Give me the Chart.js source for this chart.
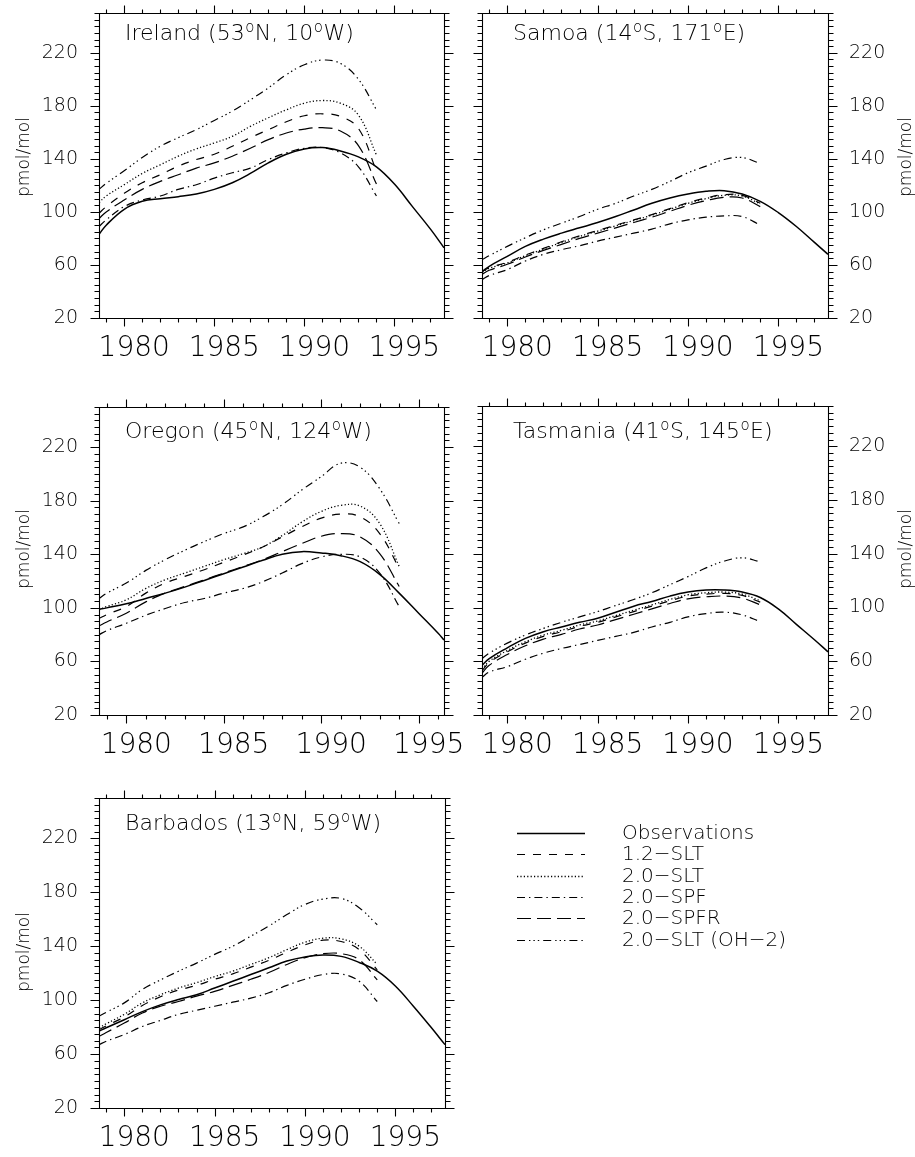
<!DOCTYPE html>
<html>
<head>
<meta charset="utf-8">
<script src="https://cdn.jsdelivr.net/npm/chart.js@4.4.1/dist/chart.umd.min.js"></script>
<style>
  html, body { margin: 0; padding: 0; background: #fff; }
  #wrap { position: relative; width: 915px; height: 1157px; overflow: hidden; background: #fff; }
  #wrap canvas { position: absolute; }
</style>
</head>
<body>
<div id="wrap"></div>
<script>
// ---- tick labels and series names ----
const X_MAJOR = [1980, 1985, 1990, 1995];
const Y_MAJOR = [20, 60, 100, 140, 180, 220];
const SERIES = ['Observations', '1.2\u2212SLT', '2.0\u2212SLT', '2.0\u2212SPF', '2.0\u2212SPFR', '2.0\u2212SLT (OH\u22122)'];

// ---- sample years ----
const YEARS_MODEL = [1978.6, 1979, 1980, 1981, 1982, 1983, 1984, 1985, 1986, 1987, 1988, 1989, 1990, 1991, 1992, 1993, 1994];
const YEARS_OBS = [1978.6, 1979, 1980, 1981, 1982, 1983, 1984, 1985, 1986, 1987, 1988, 1989, 1990, 1991, 1992, 1993, 1994, 1995, 1996, 1997, 1997.75];
const YEARS_OBS_OREGON = [1978.6, 1979, 1980, 1981, 1982, 1983, 1984, 1985, 1986, 1987, 1988, 1989, 1990, 1991, 1992, 1993, 1994, 1995, 1996, 1996.3];

// ---- Ireland (pmol/mol) ----
const IRELAND_OBS   = [83, 90, 102, 108, 110, 111.5, 113.5, 117, 122, 129, 137, 143.5, 147.5, 148.5, 146, 141.5, 134, 121, 104, 87, 73];
const IRELAND_SLT12 = [99, 104, 114, 122, 128, 134.5, 139.5, 143.5, 149.5, 156, 162, 168, 172.5, 174, 172, 163, 131];
const IRELAND_SLT20 = [107, 112, 120.5, 129, 135.5, 142, 147.5, 152, 157, 164.5, 171, 177, 182, 184, 182, 173, 143];
const IRELAND_SPF   = [89, 94, 104, 109, 112, 117, 120.5, 125.5, 129.5, 133, 139.5, 144.5, 148, 148.5, 144.5, 134, 112];
const IRELAND_SPFR  = [95, 100, 109, 117, 123, 128, 133, 137, 142, 148, 154.5, 159.5, 162.5, 163.5, 161, 150, 121];
const IRELAND_OH2   = [117, 121.5, 131, 141, 149.5, 156, 162, 169, 176, 184.5, 193.5, 203.5, 211, 214.5, 212, 200, 177];

// ---- Samoa ----
const SAMOA_OBS   = [55, 59, 66.5, 74, 79.5, 84, 88, 92, 96.5, 101.5, 106.5, 110.5, 113.5, 115.5, 116, 113.5, 108, 99.5, 89, 77, 68];
const SAMOA_SLT12 = [55, 58, 62, 67.5, 72.5, 77.5, 82, 86, 90, 94, 98, 102.5, 107, 110.5, 113, 112.5, 106.5];
const SAMOA_SLT20 = [54.5, 57.5, 61.5, 67, 72, 77, 81.5, 85.5, 89.5, 93.5, 97.5, 102, 106.5, 110, 112.5, 112, 106];
const SAMOA_SPF   = [49, 52, 56.5, 63, 68, 71.5, 74.5, 78, 81, 84, 87, 91, 94, 96, 97, 96.5, 90];
const SAMOA_SPFR  = [53, 56, 60.5, 66, 71, 75.5, 80, 84, 88, 92, 96, 100.5, 105, 108.5, 111, 110.5, 104];
const SAMOA_OH2   = [64, 67, 74, 80.5, 86.5, 91.5, 96.5, 102, 106.5, 112, 117, 123, 129.5, 134.5, 139.5, 141, 136.5];

// ---- Oregon ----
const OREGON_OBS   = [99, 100, 103, 107, 111, 115.5, 120.5, 125.5, 130.5, 135.5, 140, 142, 141, 139, 134.5, 125, 111, 96, 81, 76];
const OREGON_SLT12 = [92, 95, 101, 111, 118.5, 123.5, 128.5, 134, 139.5, 145.5, 153, 160.5, 167, 170, 168, 155.5, 129.5];
const OREGON_SLT20 = [98.5, 101, 106, 114.5, 121, 126, 131, 136, 140.5, 145.5, 154, 164, 172, 176.5, 176, 163, 131];
const OREGON_SPF   = [80, 83, 88.5, 94.5, 99.5, 104, 107, 111, 114.5, 119.5, 126, 133, 138, 140, 138, 126, 101];
const OREGON_SPFR  = [86.5, 89.5, 96, 104.5, 111, 116, 121, 126, 131, 136, 142, 148, 153.5, 155.5, 153, 140.5, 116];
const OREGON_OH2   = [107, 111, 118.5, 128, 136, 143, 149.5, 155.5, 160.5, 168, 177, 188, 198, 208, 205, 189, 163];

// ---- Tasmania ----
const TASMANIA_OBS   = [57, 62, 70, 77, 82, 85.5, 89, 92, 96.5, 101, 104.5, 108.5, 111.5, 113, 113, 111.5, 107.5, 99, 87.5, 76, 67];
const TASMANIA_SLT12 = [53, 59, 67, 73.5, 78.5, 82, 86, 89, 93, 97, 101, 105, 108.5, 110, 110.5, 109, 104];
const TASMANIA_SLT20 = [54, 60, 68, 74.5, 79.5, 83, 87, 90, 94, 98, 102, 106, 109.5, 111, 111.5, 110, 105];
const TASMANIA_SPF   = [48, 52, 56, 61.5, 66, 69.5, 72.5, 75.5, 78.5, 81.5, 85.5, 89, 93, 95.5, 96.5, 94.5, 89.5];
const TASMANIA_SPFR  = [51, 57, 65, 71.5, 76.5, 80, 84, 87, 91, 95, 99, 103, 106.5, 108, 108.5, 107, 102];
const TASMANIA_OH2   = [62, 66, 73.5, 79.5, 84.5, 89, 93, 97, 101.5, 106, 111, 117, 123, 129.5, 134.5, 137, 134];

// ---- Barbados ----
const BARBADOS_OBS   = [77, 79.5, 85.5, 91.5, 96.5, 100.5, 104, 109, 114, 119, 124, 129, 132, 133.5, 132.5, 128, 121.5, 110.5, 95.5, 79.5, 67];
const BARBADOS_SLT12 = [78, 81, 87.5, 96, 102.5, 107.5, 111, 115.5, 119.5, 124.5, 129.5, 135.5, 141, 144.5, 143.5, 137.5, 122.5];
const BARBADOS_SLT20 = [79.5, 82.5, 89.5, 98, 104, 109, 113, 117.5, 121.5, 126.5, 131.5, 137.5, 143, 146, 145.5, 140, 126.5];
const BARBADOS_SPF   = [67, 69.5, 74.5, 80.5, 85, 89.5, 92.5, 95.5, 98.5, 101.5, 105.5, 111, 115.5, 119, 119.5, 114, 99];
const BARBADOS_SPFR  = [73, 76, 83, 90.5, 95.5, 99, 103, 106.5, 111, 115.5, 120.5, 126.5, 131.5, 134.5, 134.5, 130, 115];
const BARBADOS_OH2   = [88, 91, 98, 108, 115, 121.5, 127.5, 134, 140, 147.5, 155, 163.5, 171, 175, 175.5, 168.5, 156];

// ---- styling ----
const FONT_FAMILY = '"DejaVu Sans", "Liberation Sans", sans-serif';
const FONT_WEIGHT = 200;
const DASHES = [[], [8, 8], [1.2, 2.2], [8, 4, 1.4, 4], [14, 6], [8, 4, 1.4, 3, 1.4, 3, 1.4, 4]];
const WIDTHS = [1.5, 1.2, 1.3, 1.2, 1.2, 1.2];

// page-pixel layout of each panel: canvas rect [x, y, w, h] and plot box [left, top, right, bottom]
const PANELS = [
  { name: 'Ireland (53\u00B0N, 10\u00B0W)', canvas: [0, 0, 463, 385], box: [99, 13, 444, 318], xMax: 1997.75, side: 'left',
    nameAt: [125, 40], unitAt: [25, 157], obsYears: YEARS_OBS,
    values: [IRELAND_OBS, IRELAND_SLT12, IRELAND_SLT20, IRELAND_SPF, IRELAND_SPFR, IRELAND_OH2] },
  { name: 'Samoa (14\u00B0S, 171\u00B0E)', canvas: [463, 0, 452, 385], box: [482, 13, 828, 318], xMax: 1997.75, side: 'right',
    nameAt: [513, 40], unitAt: [907, 157], obsYears: YEARS_OBS,
    values: [SAMOA_OBS, SAMOA_SLT12, SAMOA_SLT20, SAMOA_SPF, SAMOA_SPFR, SAMOA_OH2] },
  { name: 'Oregon (45\u00B0N, 124\u00B0W)', canvas: [0, 385, 463, 390], box: [99, 407, 444, 715], xMax: 1996.3, side: 'left',
    nameAt: [125, 438], unitAt: [25, 549], obsYears: YEARS_OBS_OREGON,
    values: [OREGON_OBS, OREGON_SLT12, OREGON_SLT20, OREGON_SPF, OREGON_SPFR, OREGON_OH2] },
  { name: 'Tasmania (41\u00B0S, 145\u00B0E)', canvas: [463, 385, 452, 390], box: [482, 406, 828, 715], xMax: 1997.75, side: 'right',
    nameAt: [513, 438], unitAt: [907, 549], obsYears: YEARS_OBS,
    values: [TASMANIA_OBS, TASMANIA_SLT12, TASMANIA_SLT20, TASMANIA_SPF, TASMANIA_SPFR, TASMANIA_OH2] },
  { name: 'Barbados (13\u00B0N, 59\u00B0W)', canvas: [0, 775, 915, 382], box: [99, 798, 445, 1108], xMax: 1997.75, side: 'left',
    nameAt: [125, 830], unitAt: [25, 952], obsYears: YEARS_OBS, legend: true,
    values: [BARBADOS_OBS, BARBADOS_SLT12, BARBADOS_SLT20, BARBADOS_SPF, BARBADOS_SPFR, BARBADOS_OH2] }
];

// legend position in page pixels
const LEGEND = { x0: 517, x1: 585, tx: 622, y0: 833, dy: 21.3 };

function font(size) { return FONT_WEIGHT + ' ' + size + 'px ' + FONT_FAMILY; }

// keep the plot box exactly where the layout puts it
function zeroPadding(s) { s.paddingTop = 0; s.paddingBottom = 0; s.paddingLeft = 0; s.paddingRight = 0; }

// station name, with each degree sign set as a small raised "o"
function drawStationName(ctx, text, x, y) {
  const parts = text.split('\u00B0');
  let px = x;
  ctx.textAlign = 'left';
  ctx.textBaseline = 'alphabetic';
  parts.forEach((part, i) => {
    ctx.font = font(22);
    ctx.fillText(part, px, y);
    px += ctx.measureText(part).width;
    if (i < parts.length - 1) {
      ctx.font = font(15);
      ctx.fillText('o', px + 0.5, y - 8);
      px += ctx.measureText('o').width + 1;
    }
  });
}

// Box outline, outward minor/major tick marks, station name, unit label, legend
const framePlugin = {
  id: 'frame',
  afterDraw(chart, args, o) {
    const { ctx, chartArea: a, scales: { x, y } } = chart;
    const ox = o.origin[0], oy = o.origin[1];
    const L = Math.round(a.left) + 0.5, R = Math.round(a.right) + 0.5;
    const T = Math.round(a.top) + 0.5, B = Math.round(a.bottom) + 0.5;
    ctx.save();
    ctx.strokeStyle = '#000';
    ctx.lineWidth = 1.1;
    ctx.setLineDash([]);
    ctx.beginPath();
    ctx.rect(L, T, R - L, B - T);
    for (let yr = Math.ceil(x.min); yr <= x.max; yr++) {
      const px = Math.round(x.getPixelForValue(yr)) + 0.5;
      const len = yr % 5 === 0 ? 8 : 4;
      ctx.moveTo(px, B); ctx.lineTo(px, B + len);
      ctx.moveTo(px, T); ctx.lineTo(px, T - len);
    }
    for (let v = y.min; v <= y.max; v += 5) {
      const py = Math.round(y.getPixelForValue(v)) + 0.5;
      const len = (v - 20) % 40 === 0 ? 9 : 5;
      ctx.moveTo(L, py); ctx.lineTo(L - len, py);
      ctx.moveTo(R, py); ctx.lineTo(R + len, py);
    }
    ctx.stroke();

    ctx.fillStyle = '#000';
    drawStationName(ctx, o.name, o.nameAt[0] - ox, o.nameAt[1] - oy);

    ctx.save();
    ctx.translate(o.unitAt[0] - ox, o.unitAt[1] - oy);
    ctx.rotate(-Math.PI / 2);
    ctx.font = font(17);
    ctx.textAlign = 'center';
    ctx.textBaseline = 'middle';
    ctx.fillText('pmol/mol', 0, 0);
    ctx.restore();

    if (o.legend) {
      chart.data.datasets.forEach((ds, i) => {
        const yy = Math.round(LEGEND.y0 + i * LEGEND.dy - oy) + 0.5;
        ctx.beginPath();
        ctx.lineWidth = ds.borderWidth;
        ctx.setLineDash(ds.borderDash);
        ctx.moveTo(LEGEND.x0 - ox, yy);
        ctx.lineTo(LEGEND.x1 - ox, yy);
        ctx.stroke();
        ctx.setLineDash([]);
        ctx.font = font(20);
        ctx.textAlign = 'left';
        ctx.textBaseline = 'middle';
        ctx.fillText(ds.label, LEGEND.tx - ox, yy);
      });
    }
    ctx.restore();
  }
};

const wrap = document.getElementById('wrap');

PANELS.forEach((p) => {
  const [cx, cy, cw, ch] = p.canvas;
  const [L, T, R, B] = p.box;
  const cv = document.createElement('canvas');
  cv.width = cw; cv.height = ch;
  cv.style.left = cx + 'px'; cv.style.top = cy + 'px';
  cv.style.width = cw + 'px'; cv.style.height = ch + 'px';
  wrap.appendChild(cv);

  const yWidth = p.side === 'left' ? L - cx : cx + cw - R;
  const padding = p.side === 'left'
    ? { left: 0, top: T - cy, right: cx + cw - R, bottom: 0 }
    : { left: L - cx, top: T - cy, right: 0, bottom: 0 };

  const datasets = SERIES.map((label, i) => {
    const yrs = i === 0 ? p.obsYears : YEARS_MODEL;
    return {
      label,
      data: yrs.map((yr, k) => ({ x: yr, y: p.values[i][k] })),
      borderColor: '#000',
      borderWidth: WIDTHS[i],
      borderDash: DASHES[i],
      borderCapStyle: 'butt',
      pointRadius: 0,
      fill: false,
      tension: 0.4
    };
  });

  new Chart(cv, {
    type: 'line',
    data: { datasets },
    options: {
      responsive: false,
      animation: false,
      events: [],
      devicePixelRatio: 1,
      layout: { padding },
      plugins: {
        legend: { display: false },
        tooltip: { enabled: false },
        frame: { origin: [cx, cy], name: p.name, nameAt: p.nameAt, unitAt: p.unitAt, legend: !!p.legend }
      },
      scales: {
        x: {
          type: 'linear', position: 'bottom', min: 1978.6, max: p.xMax,
          afterFit(s) { s.height = cy + ch - B; zeroPadding(s); },
          afterBuildTicks(s) { s.ticks = X_MAJOR.map(v => ({ value: v })); },
          ticks: { color: '#000', font: { family: FONT_FAMILY, size: 28, weight: FONT_WEIGHT }, padding: 14, labelOffset: 10,
                   maxRotation: 0, autoSkip: false, callback: v => String(v) },
          grid: { display: false, drawTicks: false },
          border: { display: false }
        },
        y: {
          type: 'linear', position: p.side, min: 20, max: 250,
          afterFit(s) { s.width = yWidth; zeroPadding(s); },
          afterBuildTicks(s) { s.ticks = Y_MAJOR.map(v => ({ value: v })); },
          ticks: { color: '#000', font: { family: FONT_FAMILY, size: 19, weight: FONT_WEIGHT }, padding: 21,
                   autoSkip: false, callback: v => String(v) },
          grid: { display: false, drawTicks: false },
          border: { display: false }
        }
      }
    },
    plugins: [framePlugin]
  });
});
</script>
</body>
</html>
